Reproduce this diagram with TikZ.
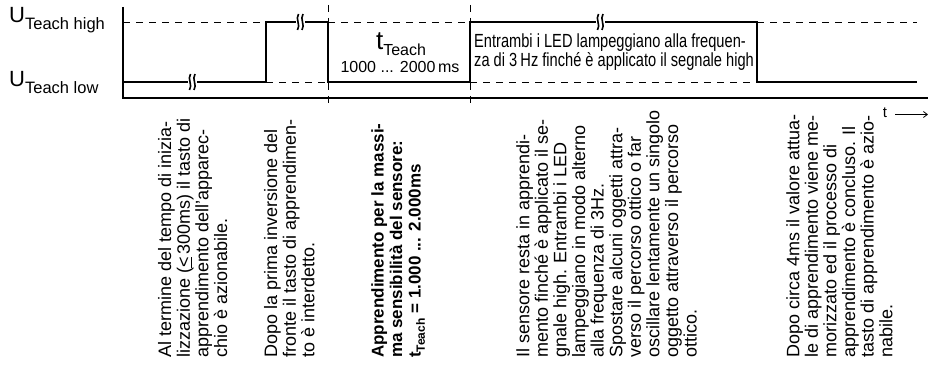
\documentclass[tikz,border=0pt]{standalone}
\usepackage{fontspec}
\setmainfont{Liberation Sans}
\newfontfamily\condfont[FakeStretch=0.77]{Liberation Sans}
\usetikzlibrary{arrows.meta}
\tikzset{
  sig/.style={line width=2.4pt, line join=miter},
  axisline/.style={line width=1.2pt},
  lvl/.style={line width=0.9pt, dash pattern=on 7pt off 6pt},
  vmark/.style={line width=0.9pt, dash pattern=on 7pt off 6pt},
  coltext/.style={rotate=90, anchor=north west, align=left, inner sep=0pt,
     font=\fontsize{18}{18.6}\selectfont},
  brk/.pic={
    \fill[white] (-4.5,-3) rectangle (4.5,3);
    \draw[line width=1.6pt] (-1.5,-8) .. controls (-5,-3) and (1,3) .. (-2.5,8);
    \draw[line width=1.6pt] (3,-8) .. controls (-0.5,-3) and (5.5,3) .. (2,8);
  }
}
\begin{document}
\begin{tikzpicture}[x=1pt,y=-1pt]
\useasboundingbox (0,0) rectangle (928,374);
% coordinates
\coordinate (o) at (123,98);
\coordinate (top) at (123,7);
\coordinate (xend) at (928,98);
\coordinate (s0) at (123,82);
\coordinate (s1) at (266,82);
\coordinate (s2) at (266,22);
\coordinate (s3) at (328,22);
\coordinate (s4) at (328,82);
\coordinate (s5) at (470,82);
\coordinate (s6) at (470,22);
\coordinate (s7) at (757,22);
\coordinate (s8) at (757,82);
\coordinate (s9) at (917,82);
\coordinate (h0) at (123,22);
\coordinate (h9) at (917,22);
\coordinate (v1t) at (328,5);
\coordinate (v1b) at (328,107);
\coordinate (v2t) at (470,5);
\coordinate (v2b) at (470,107);
% dashed levels
\draw[lvl] (h0) -- (s2);
\draw[lvl] (s3) -- (s6);
\draw[lvl] (s7) -- (h9);
\draw[lvl] (s1) -- (s4);
\draw[lvl] (s5) -- (s8);
\draw[vmark] (v1t) -- (v1b);
\draw[vmark] (v2t) -- (v2b);
% axes
\draw[axisline] (top) -- (o) -- (xend);
% signal
\draw[sig] (s0) -- (s1) -- (s2) -- (s3) -- (s4) -- (s5) -- (s6) -- (s7) -- (s8) -- (s9);
\pic at (192,82) {brk};
\pic at (300,22) {brk};
\pic at (600,22) {brk};
% level labels
\node[anchor=base west, inner sep=0pt, font=\fontsize{22}{22}\selectfont] (uh) at (9,23)
  {U\raisebox{-0.28em}{\fontsize{16.5}{16.5}\selectfont Teach high}};
\node[anchor=base west, inner sep=0pt, font=\fontsize{22}{22}\selectfont] (ul) at (9,87)
  {U\raisebox{-0.28em}{\fontsize{16.5}{16.5}\selectfont Teach low}};
% t_teach
\node[anchor=base, inner sep=0pt, font=\fontsize{26}{26}\selectfont] (tt) at (401,50)
  {t\raisebox{-0.2em}{\fontsize{16}{16}\selectfont Teach}};
\node[anchor=base, inner sep=0pt, font=\fontsize{16}{16}\selectfont] (tr) at (400,72.5)
  {1000 ... 2000\,ms};
% LED text
\node[anchor=north west, align=left, inner sep=0pt,
  font=\condfont\fontsize{19}{19.5}\selectfont] (led) at (474,33.5)
  {Entrambi i LED lampeggiano alla frequen-\\za di 3\,Hz finché è applicato il segnale high};
% time arrow
\node[anchor=base, inner sep=0pt, font=\fontsize{15}{15}\selectfont] (tl) at (885,118) {t};
\coordinate (ta) at (895,114.5);
\coordinate (tb) at (928,114.5);
\draw[line width=0.8pt, -{Straight Barb[length=4pt,width=6pt]}] (ta) -- (tb);
% rotated columns
\node[coltext] (c1) at (158,358)
 {Al termine del tempo di inizia-\\lizzazione (\underline{<}\,300ms) il tasto di\\apprendimento dell'apparec-\\chio è azionabile.};
\node[coltext] (c2) at (264,358)
 {Dopo la prima inversione del\\fronte il tasto di apprendimen-\\to è interdetto.};
\node[coltext, font=\bfseries\fontsize{17}{18.6}\selectfont] (c3) at (371,358)
 {Apprendimento per la massi-\\ma sensibilità del sensore:\\t\raisebox{-0.25em}{\fontsize{12}{12}\selectfont Teach} = 1.000 ... 2.000ms};
\node[coltext] (c4) at (516,358)
 {Il sensore resta in apprendi-\\mento finché è applicato il se-\\gnale high. Entrambi i LED\\lampeggiano in modo alterno\\alla frequenza di 3Hz.\\Spostare alcuni oggetti attra-\\verso il percorso ottico o far\\oscillare lentamente un singolo\\oggetto attraverso il percorso\\ottico.};
\node[coltext] (c5) at (786,358)
 {Dopo circa 4ms il valore attua-\\le di apprendimento viene me-\\morizzato ed il processo di\\apprendimento è concluso. Il\\tasto di apprendimento è azio-\\nabile.};
\end{tikzpicture}
\end{document}
